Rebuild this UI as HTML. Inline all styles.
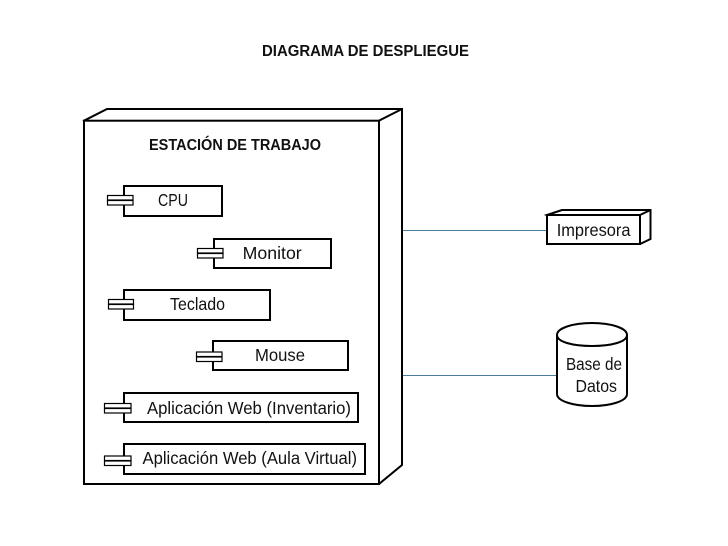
<!DOCTYPE html>
<html><head><meta charset="utf-8"><style>
html,body{margin:0;padding:0;background:#fff;width:728px;height:546px;overflow:hidden}
svg{display:block}
text{font-family:"Liberation Sans",sans-serif;fill:#111;font-size:17.5px}
.b{font-weight:bold;font-size:16px}
.s{fill:#fff;stroke:#000;stroke-width:2}
.t{fill:#fff;stroke:#000;stroke-width:1.2}
</style></head><body>
<svg width="728" height="546" viewBox="0 0 728 546" xmlns="http://www.w3.org/2000/svg">
<text class="b" x="262" y="56" textLength="207" lengthAdjust="spacingAndGlyphs">DIAGRAMA DE DESPLIEGUE</text>

<path class="s" d="M84 120.7L107 109H402V465L379 484Z"/>
<path class="s" d="M379 120.7L402 109"/>
<rect class="s" x="84" y="120.7" width="295" height="363.3"/>
<text class="b" x="149" y="150" textLength="172" lengthAdjust="spacingAndGlyphs">ESTACIÓN DE TRABAJO</text>

<rect class="s" x="124" y="186" width="98" height="30"/>
<rect class="t" x="107.5" y="195.5" width="25.5" height="4.5"/><rect class="t" x="107.5" y="200.5" width="25.5" height="4.5"/>
<text x="158" y="206" textLength="30" lengthAdjust="spacingAndGlyphs">CPU</text>

<rect class="s" x="214" y="239" width="117" height="29"/>
<rect class="t" x="197.5" y="248.5" width="25.5" height="4.5"/><rect class="t" x="197.5" y="253.5" width="25.5" height="4.5"/>
<text x="242.7" y="259" textLength="59" lengthAdjust="spacingAndGlyphs">Monitor</text>

<rect class="s" x="124" y="290" width="146" height="30"/>
<rect class="t" x="108.5" y="299.5" width="25" height="4.5"/><rect class="t" x="108.5" y="304.5" width="25" height="4.5"/>
<text x="170" y="310" textLength="55" lengthAdjust="spacingAndGlyphs">Teclado</text>

<rect class="s" x="213" y="341" width="135" height="29"/>
<rect class="t" x="196.5" y="352" width="25.5" height="4.5"/><rect class="t" x="196.5" y="357" width="25.5" height="4.5"/>
<text x="255" y="361" textLength="50" lengthAdjust="spacingAndGlyphs">Mouse</text>

<rect class="s" x="124" y="393" width="234" height="29"/>
<rect class="t" x="104.5" y="403.5" width="26.5" height="4.5"/><rect class="t" x="104.5" y="408.5" width="26.5" height="4.5"/>
<text x="147" y="414" textLength="204" lengthAdjust="spacingAndGlyphs">Aplicación Web (Inventario)</text>

<rect class="s" x="124" y="444" width="241" height="30"/>
<rect class="t" x="104.5" y="456" width="26.5" height="4.5"/><rect class="t" x="104.5" y="461" width="26.5" height="4.5"/>
<text x="142.5" y="464" textLength="214.5" lengthAdjust="spacingAndGlyphs">Aplicación Web (Aula Virtual)</text>

<path d="M403 230.5H548M403 375.5H557" stroke="#4a7f9c" stroke-width="1" fill="none"/>

<path class="s" d="M547 215L562 210H650.5V239L640 244Z"/>
<path class="s" d="M640 215L650.5 210"/>
<rect class="s" x="547" y="215" width="93" height="29"/>
<text x="556.7" y="236" textLength="73.8" lengthAdjust="spacingAndGlyphs">Impresora</text>

<path class="s" d="M557 335V394C557 401 573 406 592 406S627 401 627 394V335C627 328 611 323 592 323S557 328 557 335C557 342 573 346 592 346S627 342 627 335"/>
<text x="566" y="370" textLength="56" lengthAdjust="spacingAndGlyphs">Base de</text>
<text x="575.5" y="392" textLength="41.5" lengthAdjust="spacingAndGlyphs">Datos</text>
</svg>
</body></html>
